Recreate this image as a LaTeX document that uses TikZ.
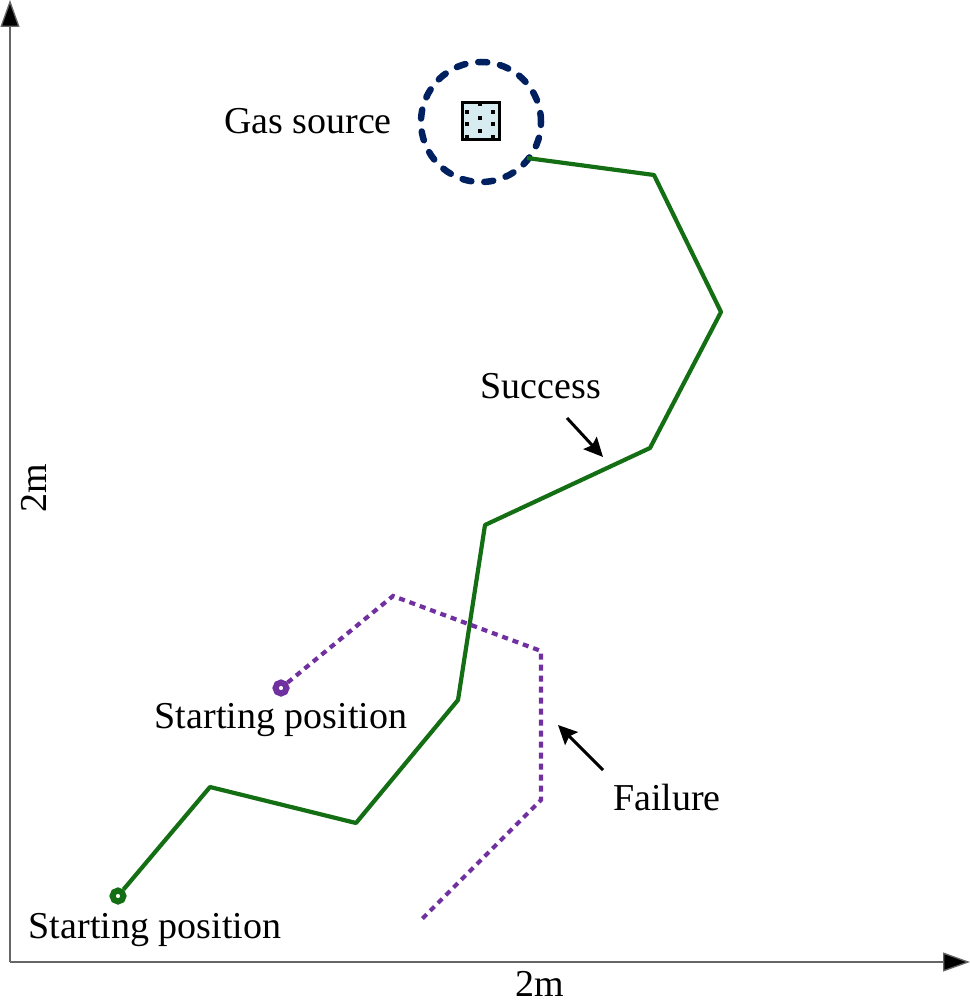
\documentclass[tikz,border=0pt]{standalone}
\usepackage{fontspec}
\setmainfont{Liberation Serif}
\usetikzlibrary{arrows.meta}
\definecolor{pathgreen}{RGB}{20,110,20}
\definecolor{pathpurple}{RGB}{112,48,160}
\definecolor{navy}{RGB}{0,32,96}
\definecolor{srcfill}{RGB}{214,236,240}
\begin{document}
\begin{tikzpicture}[x=1pt,y=-1pt,
  lbl/.style={font=\fontsize{38}{40}\selectfont, inner sep=0pt},
  axis/.style={draw=gray!80!black, line width=1.3pt, -{Triangle[length=27pt,width=19pt,fill=black]}},
  greenpath/.style={draw=pathgreen, line width=4.2pt, line join=round},
  purplepath/.style={draw=pathpurple, line width=4.2pt, dash pattern=on 6pt off 5pt},
  pointer/.style={draw=black, line width=3pt, -{Stealth[length=19pt,width=18pt,inset=3pt]}},
  startmark/.style={circle, draw, fill=white, line width=6pt, minimum size=11pt, inner sep=0pt},
  dotmark/.style={rectangle, fill=black, minimum size=4pt, inner sep=0pt}]
\useasboundingbox (0,0) rectangle (970,1000);
% axes
\coordinate (O) at (10,962);
\coordinate (ytip) at (10,0);
\coordinate (xtip) at (970,962);
\draw[axis] (O) -- (ytip);
\draw[axis] (O) -- (xtip);
\node[lbl] (xlab) at (540,984) {2m};
\node[lbl, rotate=90] (ylab) at (34,488) {2m};
% gas source
\node[circle, draw=navy, line width=6.5pt, dash pattern=on 9pt off 13pt, line cap=round, minimum size=120pt, inner sep=0pt] (src) at (481,122) {};
\node[draw=black, fill=srcfill, line width=2.8pt, minimum size=37pt, inner sep=0pt] (box) at (481,121) {};
\foreach \p in {(467,112),(480,104),(467,124),(480,118),(493,112),(467,137),(493,124),(480,131),(493,137)}
  \node[dotmark] at \p {};
\node[lbl, anchor=east] (gaslab) at (392,121) {Gas source};
% green path
\coordinate (g1) at (527,158);
\coordinate (g2) at (654,175);
\coordinate (g3) at (721,312);
\coordinate (g4) at (650,448);
\coordinate (g5) at (485,525);
\coordinate (g6) at (458,700);
\coordinate (g7) at (356,823);
\coordinate (g8) at (210,787);
\node[startmark, draw=pathgreen] (gstart) at (118,896) {};
\draw[greenpath] (gstart) -- (g8) -- (g7) -- (g6) -- (g5) -- (g4) -- (g3) -- (g2) -- (g1);
% purple path
\coordinate (p2) at (393,596);
\coordinate (p3) at (541,651);
\coordinate (p4) at (541,800);
\coordinate (p5) at (421,920);
\node[startmark, draw=pathpurple] (pstart) at (281,688) {};
\draw[purplepath] (pstart) -- (p2) -- (p3) -- (p4) -- (p5);
% labels
\node[lbl] (succ) at (541,386) {Success};
\coordinate (succtip) at (603,457);
\draw[pointer] (567,418) -- (succtip);
\node[lbl] (fail) at (667,797) {Failure};
\coordinate (failtip) at (558,725);
\draw[pointer] (603,770) -- (failtip);
\node[lbl] (s1lab) at (281,720) {Starting position};
\node[lbl] (s2lab) at (155,930) {Starting position};
\end{tikzpicture}
\end{document}
